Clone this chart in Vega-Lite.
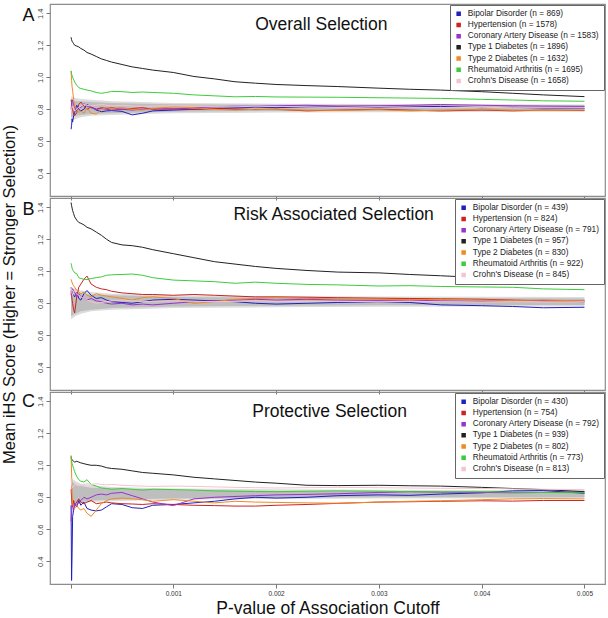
{
  "$schema": "https://vega.github.io/schema/vega-lite/v6.json",
  "background": "white",
  "padding": {"left": 0, "top": 3, "right": 4, "bottom": 2},
  "config": {
    "font": "Liberation Sans",
    "view": {"stroke": "#8c8c8c", "strokeWidth": 1.2},
    "axis": {"titleFontWeight": "normal", "titleColor": "#111", "grid": false, "domain": false, "tickColor": "#777", "tickSize": 4, "labelOverlap": false},
    "legend": {"orient": "top-right", "offset": 1, "title": null, "symbolType": "square", "symbolSize": 1, "symbolStrokeWidth": 3.5, "labelFontSize": 8.3, "labelColor": "#222", "padding": 4.5, "rowPadding": 1.2, "clipHeight": 8.5, "strokeColor": "#666", "fillColor": "white", "labelOffset": 5, "labelLimit": 300}
  },
  "bounds": "flush",
  "spacing": 2,
  "resolve": {"scale": {"x": "independent", "y": "independent", "color": "independent"}, "legend": {"color": "independent"}},
  "datasets": {
    "A": [
      {"x":0.000005,"BD":0.675,"HT":0.86,"CAD":0.80,"T1D":1.25,"T2D":1.04,"RA":1.04,"CD":0.78},
      {"x":0.00001,"BD":0.70,"HT":0.84,"CAD":0.83,"T1D":1.235,"T2D":0.98,"RA":1.02,"CD":0.80},
      {"x":0.000015,"BD":0.74,"HT":0.81,"CAD":0.86,"T1D":1.225,"T2D":0.94,"RA":1.01,"CD":0.82},
      {"x":0.00002,"BD":0.72,"HT":0.80,"CAD":0.85,"T1D":1.22,"T2D":0.92,"RA":1.00,"CD":0.82},
      {"x":0.00003,"BD":0.76,"HT":0.77,"CAD":0.83,"T1D":1.21,"T2D":0.86,"RA":0.985,"CD":0.80},
      {"x":0.00004,"BD":0.78,"HT":0.76,"CAD":0.81,"T1D":1.20,"T2D":0.82,"RA":0.97,"CD":0.79},
      {"x":0.00006,"BD":0.825,"HT":0.78,"CAD":0.79,"T1D":1.195,"T2D":0.80,"RA":0.95,"CD":0.80},
      {"x":0.00008,"BD":0.80,"HT":0.83,"CAD":0.82,"T1D":1.19,"T2D":0.78,"RA":0.935,"CD":0.815},
      {"x":0.0001,"BD":0.79,"HT":0.845,"CAD":0.81,"T1D":1.18,"T2D":0.79,"RA":0.93,"CD":0.82},
      {"x":0.00013,"BD":0.80,"HT":0.82,"CAD":0.835,"T1D":1.17,"T2D":0.775,"RA":0.925,"CD":0.83},
      {"x":0.00016,"BD":0.83,"HT":0.80,"CAD":0.82,"T1D":1.155,"T2D":0.81,"RA":0.92,"CD":0.825},
      {"x":0.0002,"BD":0.815,"HT":0.815,"CAD":0.81,"T1D":1.145,"T2D":0.775,"RA":0.915,"CD":0.82},
      {"x":0.00025,"BD":0.795,"HT":0.80,"CAD":0.80,"T1D":1.13,"T2D":0.77,"RA":0.905,"CD":0.825},
      {"x":0.0003,"BD":0.785,"HT":0.81,"CAD":0.805,"T1D":1.115,"T2D":0.80,"RA":0.90,"CD":0.83},
      {"x":0.00035,"BD":0.79,"HT":0.805,"CAD":0.80,"T1D":1.105,"T2D":0.81,"RA":0.905,"CD":0.825},
      {"x":0.0004,"BD":0.792,"HT":0.81,"CAD":0.795,"T1D":1.095,"T2D":0.805,"RA":0.912,"CD":0.82},
      {"x":0.0005,"BD":0.787,"HT":0.80,"CAD":0.80,"T1D":1.08,"T2D":0.81,"RA":0.91,"CD":0.825},
      {"x":0.0006,"BD":0.765,"HT":0.805,"CAD":0.795,"T1D":1.065,"T2D":0.80,"RA":0.905,"CD":0.82},
      {"x":0.0007,"BD":0.775,"HT":0.81,"CAD":0.80,"T1D":1.055,"T2D":0.795,"RA":0.908,"CD":0.818},
      {"x":0.0008,"BD":0.79,"HT":0.80,"CAD":0.805,"T1D":1.045,"T2D":0.805,"RA":0.905,"CD":0.82},
      {"x":0.001,"BD":0.795,"HT":0.803,"CAD":0.80,"T1D":1.03,"T2D":0.815,"RA":0.90,"CD":0.822},
      {"x":0.0012,"BD":0.80,"HT":0.80,"CAD":0.81,"T1D":1.005,"T2D":0.81,"RA":0.89,"CD":0.82},
      {"x":0.0014,"BD":0.805,"HT":0.805,"CAD":0.815,"T1D":0.99,"T2D":0.80,"RA":0.884,"CD":0.818},
      {"x":0.0016,"BD":0.808,"HT":0.80,"CAD":0.82,"T1D":0.972,"T2D":0.795,"RA":0.878,"CD":0.82},
      {"x":0.0018,"BD":0.812,"HT":0.798,"CAD":0.818,"T1D":0.963,"T2D":0.80,"RA":0.88,"CD":0.815},
      {"x":0.002,"BD":0.81,"HT":0.80,"CAD":0.822,"T1D":0.955,"T2D":0.798,"RA":0.877,"CD":0.818},
      {"x":0.0023,"BD":0.815,"HT":0.79,"CAD":0.825,"T1D":0.948,"T2D":0.795,"RA":0.876,"CD":0.815},
      {"x":0.0026,"BD":0.817,"HT":0.795,"CAD":0.82,"T1D":0.942,"T2D":0.793,"RA":0.875,"CD":0.812},
      {"x":0.003,"BD":0.812,"HT":0.80,"CAD":0.822,"T1D":0.932,"T2D":0.797,"RA":0.872,"CD":0.815},
      {"x":0.0033,"BD":0.815,"HT":0.795,"CAD":0.825,"T1D":0.925,"T2D":0.79,"RA":0.87,"CD":0.812},
      {"x":0.0036,"BD":0.818,"HT":0.79,"CAD":0.83,"T1D":0.92,"T2D":0.795,"RA":0.868,"CD":0.81},
      {"x":0.004,"BD":0.81,"HT":0.795,"CAD":0.825,"T1D":0.91,"T2D":0.798,"RA":0.862,"CD":0.812},
      {"x":0.0043,"BD":0.812,"HT":0.79,"CAD":0.822,"T1D":0.90,"T2D":0.795,"RA":0.858,"CD":0.81},
      {"x":0.0046,"BD":0.808,"HT":0.795,"CAD":0.82,"T1D":0.89,"T2D":0.793,"RA":0.853,"CD":0.81},
      {"x":0.005,"BD":0.805,"HT":0.792,"CAD":0.818,"T1D":0.879,"T2D":0.795,"RA":0.85,"CD":0.808}
    ],
    "B": [
      {"x":0.000005,"BD":0.90,"HT":0.88,"CAD":0.85,"T1D":1.43,"T2D":0.95,"RA":1.05,"CD":0.90},
      {"x":0.00001,"BD":0.88,"HT":0.85,"CAD":0.88,"T1D":1.41,"T2D":0.94,"RA":1.035,"CD":0.88},
      {"x":0.000015,"BD":0.87,"HT":0.82,"CAD":0.89,"T1D":1.395,"T2D":0.93,"RA":1.02,"CD":0.86},
      {"x":0.00002,"BD":0.86,"HT":0.80,"CAD":0.89,"T1D":1.38,"T2D":0.92,"RA":1.01,"CD":0.85},
      {"x":0.00003,"BD":0.85,"HT":0.76,"CAD":0.88,"T1D":1.36,"T2D":0.91,"RA":1.00,"CD":0.87},
      {"x":0.00004,"BD":0.84,"HT":0.74,"CAD":0.87,"T1D":1.34,"T2D":0.90,"RA":0.99,"CD":0.88},
      {"x":0.00006,"BD":0.87,"HT":0.84,"CAD":0.84,"T1D":1.32,"T2D":0.88,"RA":0.985,"CD":0.86},
      {"x":0.00008,"BD":0.83,"HT":0.90,"CAD":0.86,"T1D":1.305,"T2D":0.87,"RA":0.96,"CD":0.85},
      {"x":0.0001,"BD":0.82,"HT":0.92,"CAD":0.84,"T1D":1.30,"T2D":0.86,"RA":0.955,"CD":0.84},
      {"x":0.00013,"BD":0.86,"HT":0.95,"CAD":0.83,"T1D":1.29,"T2D":0.87,"RA":0.95,"CD":0.83},
      {"x":0.00016,"BD":0.88,"HT":0.97,"CAD":0.82,"T1D":1.275,"T2D":0.85,"RA":0.948,"CD":0.82},
      {"x":0.0002,"BD":0.85,"HT":0.92,"CAD":0.83,"T1D":1.265,"T2D":0.84,"RA":0.955,"CD":0.81},
      {"x":0.00025,"BD":0.83,"HT":0.90,"CAD":0.815,"T1D":1.245,"T2D":0.86,"RA":0.96,"CD":0.80},
      {"x":0.0003,"BD":0.835,"HT":0.89,"CAD":0.81,"T1D":1.225,"T2D":0.85,"RA":0.965,"CD":0.805},
      {"x":0.00035,"BD":0.82,"HT":0.885,"CAD":0.80,"T1D":1.20,"T2D":0.845,"RA":0.975,"CD":0.81},
      {"x":0.0004,"BD":0.81,"HT":0.875,"CAD":0.795,"T1D":1.18,"T2D":0.84,"RA":0.978,"CD":0.815},
      {"x":0.0005,"BD":0.805,"HT":0.865,"CAD":0.80,"T1D":1.165,"T2D":0.83,"RA":0.98,"CD":0.82},
      {"x":0.0006,"BD":0.80,"HT":0.86,"CAD":0.79,"T1D":1.16,"T2D":0.82,"RA":0.983,"CD":0.815},
      {"x":0.0007,"BD":0.81,"HT":0.855,"CAD":0.795,"T1D":1.15,"T2D":0.835,"RA":0.975,"CD":0.81},
      {"x":0.0008,"BD":0.82,"HT":0.855,"CAD":0.79,"T1D":1.135,"T2D":0.84,"RA":0.96,"CD":0.812},
      {"x":0.001,"BD":0.825,"HT":0.85,"CAD":0.80,"T1D":1.11,"T2D":0.83,"RA":0.945,"CD":0.815},
      {"x":0.0012,"BD":0.82,"HT":0.855,"CAD":0.81,"T1D":1.085,"T2D":0.80,"RA":0.94,"CD":0.812},
      {"x":0.0014,"BD":0.815,"HT":0.85,"CAD":0.815,"T1D":1.06,"T2D":0.81,"RA":0.935,"CD":0.81},
      {"x":0.0016,"BD":0.81,"HT":0.845,"CAD":0.82,"T1D":1.045,"T2D":0.825,"RA":0.925,"CD":0.812},
      {"x":0.0018,"BD":0.80,"HT":0.84,"CAD":0.825,"T1D":1.03,"T2D":0.83,"RA":0.932,"CD":0.815},
      {"x":0.002,"BD":0.795,"HT":0.84,"CAD":0.82,"T1D":1.018,"T2D":0.835,"RA":0.925,"CD":0.812},
      {"x":0.0023,"BD":0.80,"HT":0.838,"CAD":0.825,"T1D":1.005,"T2D":0.83,"RA":0.918,"CD":0.81},
      {"x":0.0026,"BD":0.805,"HT":0.835,"CAD":0.82,"T1D":0.995,"T2D":0.828,"RA":0.915,"CD":0.812},
      {"x":0.003,"BD":0.81,"HT":0.832,"CAD":0.818,"T1D":0.99,"T2D":0.825,"RA":0.908,"CD":0.81},
      {"x":0.0033,"BD":0.805,"HT":0.83,"CAD":0.82,"T1D":0.98,"T2D":0.822,"RA":0.91,"CD":0.812},
      {"x":0.0036,"BD":0.79,"HT":0.828,"CAD":0.815,"T1D":0.972,"T2D":0.825,"RA":0.905,"CD":0.81},
      {"x":0.004,"BD":0.785,"HT":0.825,"CAD":0.812,"T1D":0.96,"T2D":0.82,"RA":0.902,"CD":0.808},
      {"x":0.0043,"BD":0.78,"HT":0.82,"CAD":0.815,"T1D":0.95,"T2D":0.818,"RA":0.90,"CD":0.81},
      {"x":0.0046,"BD":0.772,"HT":0.815,"CAD":0.818,"T1D":0.94,"T2D":0.82,"RA":0.89,"CD":0.808},
      {"x":0.005,"BD":0.775,"HT":0.81,"CAD":0.815,"T1D":0.93,"T2D":0.815,"RA":0.885,"CD":0.81}
    ],
    "C": [
      {"x":0.000005,"BD":0.75,"HT":0.85,"CAD":0.65,"T1D":1.05,"T2D":1.06,"RA":1.06,"CD":0.92},
      {"x":0.00001,"BD":0.28,"HT":0.80,"CAD":0.70,"T1D":1.04,"T2D":0.95,"RA":1.03,"CD":0.88},
      {"x":0.000015,"BD":0.45,"HT":0.76,"CAD":0.74,"T1D":1.035,"T2D":0.82,"RA":1.01,"CD":0.87},
      {"x":0.00002,"BD":0.68,"HT":0.74,"CAD":0.76,"T1D":1.03,"T2D":0.76,"RA":1.00,"CD":0.86},
      {"x":0.00003,"BD":0.72,"HT":0.78,"CAD":0.72,"T1D":1.025,"T2D":0.74,"RA":0.98,"CD":0.87},
      {"x":0.00004,"BD":0.76,"HT":0.75,"CAD":0.76,"T1D":1.02,"T2D":0.73,"RA":0.96,"CD":0.88},
      {"x":0.00006,"BD":0.74,"HT":0.77,"CAD":0.75,"T1D":1.025,"T2D":0.75,"RA":0.93,"CD":0.875},
      {"x":0.00008,"BD":0.78,"HT":0.79,"CAD":0.77,"T1D":1.02,"T2D":0.73,"RA":0.91,"CD":0.87},
      {"x":0.0001,"BD":0.75,"HT":0.77,"CAD":0.78,"T1D":1.015,"T2D":0.72,"RA":0.90,"CD":0.875},
      {"x":0.00013,"BD":0.77,"HT":0.76,"CAD":0.80,"T1D":1.01,"T2D":0.73,"RA":0.895,"CD":0.88},
      {"x":0.00016,"BD":0.73,"HT":0.77,"CAD":0.79,"T1D":1.005,"T2D":0.70,"RA":0.91,"CD":0.885},
      {"x":0.0002,"BD":0.72,"HT":0.78,"CAD":0.80,"T1D":1.00,"T2D":0.68,"RA":0.88,"CD":0.88},
      {"x":0.00025,"BD":0.715,"HT":0.76,"CAD":0.815,"T1D":1.00,"T2D":0.72,"RA":0.87,"CD":0.885},
      {"x":0.0003,"BD":0.72,"HT":0.765,"CAD":0.82,"T1D":0.995,"T2D":0.76,"RA":0.858,"CD":0.88},
      {"x":0.00035,"BD":0.74,"HT":0.77,"CAD":0.815,"T1D":0.985,"T2D":0.78,"RA":0.855,"CD":0.878},
      {"x":0.0004,"BD":0.76,"HT":0.765,"CAD":0.825,"T1D":0.98,"T2D":0.79,"RA":0.85,"CD":0.88},
      {"x":0.0005,"BD":0.755,"HT":0.76,"CAD":0.83,"T1D":0.975,"T2D":0.795,"RA":0.855,"CD":0.875},
      {"x":0.0006,"BD":0.735,"HT":0.758,"CAD":0.81,"T1D":0.965,"T2D":0.79,"RA":0.85,"CD":0.872},
      {"x":0.0007,"BD":0.73,"HT":0.755,"CAD":0.79,"T1D":0.955,"T2D":0.785,"RA":0.845,"CD":0.87},
      {"x":0.0008,"BD":0.75,"HT":0.76,"CAD":0.77,"T1D":0.95,"T2D":0.775,"RA":0.85,"CD":0.868},
      {"x":0.001,"BD":0.755,"HT":0.755,"CAD":0.748,"T1D":0.94,"T2D":0.785,"RA":0.848,"CD":0.87},
      {"x":0.0012,"BD":0.765,"HT":0.75,"CAD":0.79,"T1D":0.925,"T2D":0.775,"RA":0.845,"CD":0.868},
      {"x":0.0014,"BD":0.775,"HT":0.748,"CAD":0.80,"T1D":0.915,"T2D":0.765,"RA":0.84,"CD":0.865},
      {"x":0.0016,"BD":0.79,"HT":0.745,"CAD":0.805,"T1D":0.905,"T2D":0.775,"RA":0.838,"CD":0.862},
      {"x":0.0018,"BD":0.80,"HT":0.745,"CAD":0.81,"T1D":0.895,"T2D":0.77,"RA":0.836,"CD":0.86},
      {"x":0.002,"BD":0.795,"HT":0.75,"CAD":0.815,"T1D":0.888,"T2D":0.768,"RA":0.835,"CD":0.858},
      {"x":0.0023,"BD":0.80,"HT":0.755,"CAD":0.818,"T1D":0.875,"T2D":0.765,"RA":0.838,"CD":0.86},
      {"x":0.0026,"BD":0.81,"HT":0.762,"CAD":0.822,"T1D":0.873,"T2D":0.763,"RA":0.84,"CD":0.862},
      {"x":0.003,"BD":0.815,"HT":0.77,"CAD":0.83,"T1D":0.875,"T2D":0.77,"RA":0.838,"CD":0.86},
      {"x":0.0033,"BD":0.812,"HT":0.772,"CAD":0.835,"T1D":0.872,"T2D":0.775,"RA":0.835,"CD":0.858},
      {"x":0.0036,"BD":0.82,"HT":0.775,"CAD":0.832,"T1D":0.87,"T2D":0.778,"RA":0.833,"CD":0.856},
      {"x":0.004,"BD":0.828,"HT":0.778,"CAD":0.83,"T1D":0.862,"T2D":0.785,"RA":0.835,"CD":0.855},
      {"x":0.0043,"BD":0.84,"HT":0.776,"CAD":0.828,"T1D":0.855,"T2D":0.79,"RA":0.832,"CD":0.852},
      {"x":0.0046,"BD":0.842,"HT":0.78,"CAD":0.83,"T1D":0.848,"T2D":0.792,"RA":0.83,"CD":0.85},
      {"x":0.005,"BD":0.825,"HT":0.78,"CAD":0.832,"T1D":0.835,"T2D":0.79,"RA":0.828,"CD":0.848}
    ],
    "bandA": [
      {"x":0.000005,"lo":0.73,"hi":0.88,"lo2":0.75,"hi2":0.86},
      {"x":0.00005,"lo":0.74,"hi":0.87,"lo2":0.76,"hi2":0.85},
      {"x":0.0001,"lo":0.75,"hi":0.865,"lo2":0.765,"hi2":0.85},
      {"x":0.0002,"lo":0.76,"hi":0.86,"lo2":0.77,"hi2":0.845},
      {"x":0.0004,"lo":0.765,"hi":0.85,"lo2":0.775,"hi2":0.84},
      {"x":0.0007,"lo":0.77,"hi":0.845,"lo2":0.78,"hi2":0.835},
      {"x":0.001,"lo":0.775,"hi":0.84,"lo2":0.785,"hi2":0.832},
      {"x":0.002,"lo":0.78,"hi":0.835,"lo2":0.79,"hi2":0.828},
      {"x":0.003,"lo":0.782,"hi":0.833,"lo2":0.792,"hi2":0.826},
      {"x":0.005,"lo":0.785,"hi":0.83,"lo2":0.793,"hi2":0.825}
    ],
    "bandB": [
      {"x":0.000005,"lo":0.70,"hi":0.90,"lo2":0.72,"hi2":0.88},
      {"x":0.00005,"lo":0.72,"hi":0.89,"lo2":0.735,"hi2":0.87},
      {"x":0.0001,"lo":0.735,"hi":0.88,"lo2":0.75,"hi2":0.86},
      {"x":0.0002,"lo":0.75,"hi":0.87,"lo2":0.76,"hi2":0.855},
      {"x":0.0004,"lo":0.76,"hi":0.86,"lo2":0.77,"hi2":0.85},
      {"x":0.0007,"lo":0.765,"hi":0.855,"lo2":0.775,"hi2":0.845},
      {"x":0.001,"lo":0.77,"hi":0.85,"lo2":0.78,"hi2":0.84},
      {"x":0.002,"lo":0.775,"hi":0.845,"lo2":0.785,"hi2":0.835},
      {"x":0.003,"lo":0.778,"hi":0.842,"lo2":0.787,"hi2":0.833},
      {"x":0.005,"lo":0.78,"hi":0.84,"lo2":0.79,"hi2":0.83}
    ],
    "bandC": [
      {"x":0.000005,"lo":0.73,"hi":0.92,"lo2":0.75,"hi2":0.90},
      {"x":0.00005,"lo":0.75,"hi":0.90,"lo2":0.76,"hi2":0.88},
      {"x":0.0001,"lo":0.76,"hi":0.885,"lo2":0.77,"hi2":0.87},
      {"x":0.0002,"lo":0.77,"hi":0.875,"lo2":0.78,"hi2":0.86},
      {"x":0.0004,"lo":0.775,"hi":0.865,"lo2":0.785,"hi2":0.855},
      {"x":0.0007,"lo":0.78,"hi":0.86,"lo2":0.79,"hi2":0.85},
      {"x":0.001,"lo":0.785,"hi":0.855,"lo2":0.793,"hi2":0.845},
      {"x":0.002,"lo":0.79,"hi":0.85,"lo2":0.797,"hi2":0.84},
      {"x":0.003,"lo":0.792,"hi":0.847,"lo2":0.80,"hi2":0.838},
      {"x":0.005,"lo":0.795,"hi":0.845,"lo2":0.80,"hi2":0.835}
    ]
  },
  "vconcat": [
    {
      "width": 555, "height": 192,
      "layer": [
        {"data": {"name": "bandA"}, "mark": {"type": "area", "color": "#dcdcdc"},
         "encoding": {
           "x": {"field": "x", "type": "quantitative", "scale": {"domain": [-0.0002, 0.0052], "nice": false, "zero": false},
                 "axis": {"values": [0, 0.001, 0.002, 0.003, 0.004, 0.005], "labels": false, "title": null}},
           "y": {"field": "lo", "type": "quantitative", "scale": {"domain": [0.258, 1.458], "nice": false, "zero": false},
                 "axis": {"values": [0.4, 0.6, 0.8, 1.0, 1.2, 1.4], "format": ".1f", "labelOverlap": false, "labelAngle": 270, "labelAlign": "center", "labelBaseline": "bottom", "labelPadding": 2, "labelFontSize": 7.5, "labelColor": "#444", "title": null}},
           "y2": {"field": "hi"}}},
        {"data": {"name": "bandA"}, "mark": {"type": "area", "color": "#bebebe"},
         "encoding": {
           "x": {"field": "x", "type": "quantitative", "axis": {"values": [0, 0.001, 0.002, 0.003, 0.004, 0.005], "labels": false, "title": null}},
           "y": {"field": "lo2", "type": "quantitative", "axis": {"values": [0.4, 0.6, 0.8, 1.0, 1.2, 1.4], "format": ".1f", "labelOverlap": false, "labelAngle": 270, "labelAlign": "center", "labelBaseline": "bottom", "labelPadding": 2, "labelFontSize": 7.5, "labelColor": "#444", "title": null}},
           "y2": {"field": "hi2"}}},
        {"data": {"name": "A"}, "transform": [{"fold": ["BD", "HT", "CAD", "T1D", "T2D", "RA", "CD"], "as": ["s", "v"]}],
         "mark": {"type": "line", "strokeWidth": 1},
         "encoding": {
           "x": {"field": "x", "type": "quantitative", "axis": {"values": [0, 0.001, 0.002, 0.003, 0.004, 0.005], "labels": false, "title": null}},
           "y": {"field": "v", "type": "quantitative", "axis": {"values": [0.4, 0.6, 0.8, 1.0, 1.2, 1.4], "format": ".1f", "labelOverlap": false, "labelAngle": 270, "labelAlign": "center", "labelBaseline": "bottom", "labelPadding": 2, "labelFontSize": 7.5, "labelColor": "#444", "title": null}},
           "color": {"field": "s", "type": "nominal",
                     "scale": {"domain": ["BD", "HT", "CAD", "T1D", "T2D", "RA", "CD"], "range": ["#2020c0", "#cc2222", "#9933cc", "#222222", "#f08a24", "#3ccc3c", "#f4c4d0"]},
                     "legend": {"labelExpr": "datum.value=='BD'?'Bipolar Disorder (n = 869)':datum.value=='HT'?'Hypertension (n = 1578)':datum.value=='CAD'?'Coronary Artery Disease (n = 1583)':datum.value=='T1D'?'Type 1 Diabetes (n = 1896)':datum.value=='T2D'?'Type 2 Diabetes (n = 1632)':datum.value=='RA'?'Rheumatoid Arthritis (n = 1695)':\"Crohn's Disease (n = 1658)\""}}}},
        {"data": {"values": [{}]}, "mark": {"type": "text", "fontSize": 17.5, "align": "center", "baseline": "middle", "color": "#111"},
         "encoding": {
           "x": {"datum": 0.00244, "type": "quantitative", "axis": {"values": [0, 0.001, 0.002, 0.003, 0.004, 0.005], "labels": false, "title": null}},
           "y": {"datum": 1.325, "type": "quantitative", "axis": {"values": [0.4, 0.6, 0.8, 1.0, 1.2, 1.4], "format": ".1f", "labelOverlap": false, "labelAngle": 270, "labelAlign": "center", "labelBaseline": "bottom", "labelPadding": 2, "labelFontSize": 7.5, "labelColor": "#444", "title": null}},
           "text": {"value": "Overall Selection"}}},
        {"data": {"values": [{}]}, "mark": {"type": "text", "fontSize": 18, "align": "center", "baseline": "middle", "color": "#111"},
         "encoding": {
           "x": {"datum": -0.00041, "type": "quantitative", "axis": {"values": [0, 0.001, 0.002, 0.003, 0.004, 0.005], "labels": false, "title": null}},
           "y": {"datum": 1.384, "type": "quantitative", "axis": {"values": [0.4, 0.6, 0.8, 1.0, 1.2, 1.4], "format": ".1f", "labelOverlap": false, "labelAngle": 270, "labelAlign": "center", "labelBaseline": "bottom", "labelPadding": 2, "labelFontSize": 7.5, "labelColor": "#444", "title": null}},
           "text": {"value": "A"}}}
      ]
    },
    {
      "width": 555, "height": 192,
      "layer": [
        {"data": {"name": "bandB"}, "mark": {"type": "area", "color": "#dcdcdc"},
         "encoding": {
           "x": {"field": "x", "type": "quantitative", "scale": {"domain": [-0.0002, 0.0052], "nice": false, "zero": false},
                 "axis": {"values": [0, 0.001, 0.002, 0.003, 0.004, 0.005], "labels": false, "title": null}},
           "y": {"field": "lo", "type": "quantitative", "scale": {"domain": [0.258, 1.458], "nice": false, "zero": false},
                 "axis": {"values": [0.4, 0.6, 0.8, 1.0, 1.2, 1.4], "format": ".1f", "labelOverlap": false, "labelAngle": 270, "labelAlign": "center", "labelBaseline": "bottom", "labelPadding": 2, "labelFontSize": 7.5, "labelColor": "#444", "title": "Mean iHS Score (Higher = Stronger Selection)", "titleFontSize": 16.5, "titlePadding": 19}},
           "y2": {"field": "hi"}}},
        {"data": {"name": "bandB"}, "mark": {"type": "area", "color": "#bebebe"},
         "encoding": {
           "x": {"field": "x", "type": "quantitative", "axis": {"values": [0, 0.001, 0.002, 0.003, 0.004, 0.005], "labels": false, "title": null}},
           "y": {"field": "lo2", "type": "quantitative", "axis": {"values": [0.4, 0.6, 0.8, 1.0, 1.2, 1.4], "format": ".1f", "labelOverlap": false, "labelAngle": 270, "labelAlign": "center", "labelBaseline": "bottom", "labelPadding": 2, "labelFontSize": 7.5, "labelColor": "#444", "title": "Mean iHS Score (Higher = Stronger Selection)", "titleFontSize": 16.5, "titlePadding": 19}},
           "y2": {"field": "hi2"}}},
        {"data": {"name": "B"}, "transform": [{"fold": ["BD", "HT", "CAD", "T1D", "T2D", "RA", "CD"], "as": ["s", "v"]}],
         "mark": {"type": "line", "strokeWidth": 1},
         "encoding": {
           "x": {"field": "x", "type": "quantitative", "axis": {"values": [0, 0.001, 0.002, 0.003, 0.004, 0.005], "labels": false, "title": null}},
           "y": {"field": "v", "type": "quantitative", "axis": {"values": [0.4, 0.6, 0.8, 1.0, 1.2, 1.4], "format": ".1f", "labelOverlap": false, "labelAngle": 270, "labelAlign": "center", "labelBaseline": "bottom", "labelPadding": 2, "labelFontSize": 7.5, "labelColor": "#444", "title": "Mean iHS Score (Higher = Stronger Selection)", "titleFontSize": 16.5, "titlePadding": 19}},
           "color": {"field": "s", "type": "nominal",
                     "scale": {"domain": ["BD", "HT", "CAD", "T1D", "T2D", "RA", "CD"], "range": ["#2020c0", "#cc2222", "#9933cc", "#222222", "#f08a24", "#3ccc3c", "#f4c4d0"]},
                     "legend": {"labelExpr": "datum.value=='BD'?'Bipolar Disorder (n = 439)':datum.value=='HT'?'Hypertension (n = 824)':datum.value=='CAD'?'Coronary Artery Disease (n = 791)':datum.value=='T1D'?'Type 1 Diabetes (n = 957)':datum.value=='T2D'?'Type 2 Diabetes (n = 830)':datum.value=='RA'?'Rheumatoid Arthritis (n = 922)':\"Crohn's Disease (n = 845)\""}}}},
        {"data": {"values": [{}]}, "mark": {"type": "text", "fontSize": 17.5, "align": "center", "baseline": "middle", "color": "#111"},
         "encoding": {
           "x": {"datum": 0.00256, "type": "quantitative", "axis": {"values": [0, 0.001, 0.002, 0.003, 0.004, 0.005], "labels": false, "title": null}},
           "y": {"datum": 1.35, "type": "quantitative", "axis": {"values": [0.4, 0.6, 0.8, 1.0, 1.2, 1.4], "format": ".1f", "labelOverlap": false, "labelAngle": 270, "labelAlign": "center", "labelBaseline": "bottom", "labelPadding": 2, "labelFontSize": 7.5, "labelColor": "#444", "title": "Mean iHS Score (Higher = Stronger Selection)", "titleFontSize": 16.5, "titlePadding": 19}},
           "text": {"value": "Risk Associated Selection"}}},
        {"data": {"values": [{}]}, "mark": {"type": "text", "fontSize": 18, "align": "center", "baseline": "middle", "color": "#111"},
         "encoding": {
           "x": {"datum": -0.00041, "type": "quantitative", "axis": {"values": [0, 0.001, 0.002, 0.003, 0.004, 0.005], "labels": false, "title": null}},
           "y": {"datum": 1.381, "type": "quantitative", "axis": {"values": [0.4, 0.6, 0.8, 1.0, 1.2, 1.4], "format": ".1f", "labelOverlap": false, "labelAngle": 270, "labelAlign": "center", "labelBaseline": "bottom", "labelPadding": 2, "labelFontSize": 7.5, "labelColor": "#444", "title": "Mean iHS Score (Higher = Stronger Selection)", "titleFontSize": 16.5, "titlePadding": 19}},
           "text": {"value": "B"}}}
      ]
    },
    {
      "width": 555, "height": 192,
      "layer": [
        {"data": {"name": "bandC"}, "mark": {"type": "area", "color": "#dcdcdc"},
         "encoding": {
           "x": {"field": "x", "type": "quantitative", "scale": {"domain": [-0.0002, 0.0052], "nice": false, "zero": false},
                 "axis": {"values": [0, 0.001, 0.002, 0.003, 0.004, 0.005], "labelExpr": "datum.value == 0 ? '' : format(datum.value, '.3f')", "labelOverlap": false, "labelFontSize": 6.5, "labelColor": "#333", "labelPadding": 2, "title": "P-value of Association Cutoff", "titleFontSize": 17.5, "titlePadding": 3}},
           "y": {"field": "lo", "type": "quantitative", "scale": {"domain": [0.258, 1.458], "nice": false, "zero": false},
                 "axis": {"values": [0.4, 0.6, 0.8, 1.0, 1.2, 1.4], "format": ".1f", "labelOverlap": false, "labelAngle": 270, "labelAlign": "center", "labelBaseline": "bottom", "labelPadding": 2, "labelFontSize": 7.5, "labelColor": "#444", "title": null}},
           "y2": {"field": "hi"}}},
        {"data": {"name": "bandC"}, "mark": {"type": "area", "color": "#bebebe"},
         "encoding": {
           "x": {"field": "x", "type": "quantitative", "axis": {"values": [0, 0.001, 0.002, 0.003, 0.004, 0.005], "labelExpr": "datum.value == 0 ? '' : format(datum.value, '.3f')", "labelOverlap": false, "labelFontSize": 6.5, "labelColor": "#333", "labelPadding": 2, "title": "P-value of Association Cutoff", "titleFontSize": 17.5, "titlePadding": 3}},
           "y": {"field": "lo2", "type": "quantitative", "axis": {"values": [0.4, 0.6, 0.8, 1.0, 1.2, 1.4], "format": ".1f", "labelOverlap": false, "labelAngle": 270, "labelAlign": "center", "labelBaseline": "bottom", "labelPadding": 2, "labelFontSize": 7.5, "labelColor": "#444", "title": null}},
           "y2": {"field": "hi2"}}},
        {"data": {"name": "C"}, "transform": [{"fold": ["BD", "HT", "CAD", "T1D", "T2D", "RA", "CD"], "as": ["s", "v"]}],
         "mark": {"type": "line", "strokeWidth": 1},
         "encoding": {
           "x": {"field": "x", "type": "quantitative", "axis": {"values": [0, 0.001, 0.002, 0.003, 0.004, 0.005], "labelExpr": "datum.value == 0 ? '' : format(datum.value, '.3f')", "labelOverlap": false, "labelFontSize": 6.5, "labelColor": "#333", "labelPadding": 2, "title": "P-value of Association Cutoff", "titleFontSize": 17.5, "titlePadding": 3}},
           "y": {"field": "v", "type": "quantitative", "axis": {"values": [0.4, 0.6, 0.8, 1.0, 1.2, 1.4], "format": ".1f", "labelOverlap": false, "labelAngle": 270, "labelAlign": "center", "labelBaseline": "bottom", "labelPadding": 2, "labelFontSize": 7.5, "labelColor": "#444", "title": null}},
           "color": {"field": "s", "type": "nominal",
                     "scale": {"domain": ["BD", "HT", "CAD", "T1D", "T2D", "RA", "CD"], "range": ["#2020c0", "#cc2222", "#9933cc", "#222222", "#f08a24", "#3ccc3c", "#f4c4d0"]},
                     "legend": {"labelExpr": "datum.value=='BD'?'Bipolar Disorder (n = 430)':datum.value=='HT'?'Hypertension (n = 754)':datum.value=='CAD'?'Coronary Artery Disease (n = 792)':datum.value=='T1D'?'Type 1 Diabetes (n = 939)':datum.value=='T2D'?'Type 2 Diabetes (n = 802)':datum.value=='RA'?'Rheumatoid Arthritis (n = 773)':\"Crohn's Disease (n = 813)\""}}}},
        {"data": {"values": [{}]}, "mark": {"type": "text", "fontSize": 17.5, "align": "center", "baseline": "middle", "color": "#111"},
         "encoding": {
           "x": {"datum": 0.00252, "type": "quantitative", "axis": {"values": [0, 0.001, 0.002, 0.003, 0.004, 0.005], "labelExpr": "datum.value == 0 ? '' : format(datum.value, '.3f')", "labelOverlap": false, "labelFontSize": 6.5, "labelColor": "#333", "labelPadding": 2, "title": "P-value of Association Cutoff", "titleFontSize": 17.5, "titlePadding": 3}},
           "y": {"datum": 1.331, "type": "quantitative", "axis": {"values": [0.4, 0.6, 0.8, 1.0, 1.2, 1.4], "format": ".1f", "labelOverlap": false, "labelAngle": 270, "labelAlign": "center", "labelBaseline": "bottom", "labelPadding": 2, "labelFontSize": 7.5, "labelColor": "#444", "title": null}},
           "text": {"value": "Protective Selection"}}},
        {"data": {"values": [{}]}, "mark": {"type": "text", "fontSize": 18, "align": "center", "baseline": "middle", "color": "#111"},
         "encoding": {
           "x": {"datum": -0.00041, "type": "quantitative", "axis": {"values": [0, 0.001, 0.002, 0.003, 0.004, 0.005], "labelExpr": "datum.value == 0 ? '' : format(datum.value, '.3f')", "labelOverlap": false, "labelFontSize": 6.5, "labelColor": "#333", "labelPadding": 2, "title": "P-value of Association Cutoff", "titleFontSize": 17.5, "titlePadding": 3}},
           "y": {"datum": 1.394, "type": "quantitative", "axis": {"values": [0.4, 0.6, 0.8, 1.0, 1.2, 1.4], "format": ".1f", "labelOverlap": false, "labelAngle": 270, "labelAlign": "center", "labelBaseline": "bottom", "labelPadding": 2, "labelFontSize": 7.5, "labelColor": "#444", "title": null}},
           "text": {"value": "C"}}}
      ]
    }
  ]
}
